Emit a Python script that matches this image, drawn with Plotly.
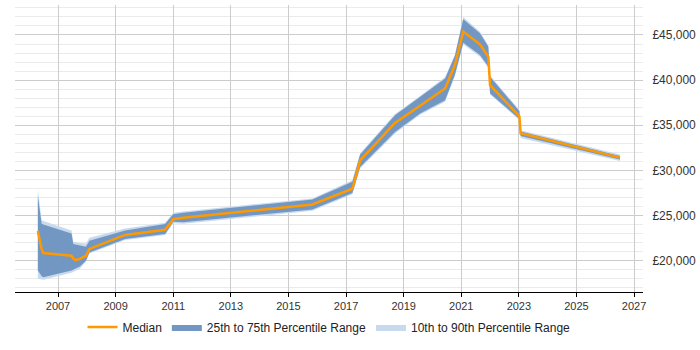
import plotly.graph_objects as go

# Time points (decimal years)
years = [2006.30, 2006.43, 2006.49, 2007.47, 2007.53, 2007.60, 2007.76, 2007.97, 2008.09,
         2009.33, 2010.72, 2011.00, 2011.35, 2015.83, 2017.22, 2017.49, 2018.70, 2019.57,
         2020.44, 2020.78, 2021.07, 2021.65, 2021.94, 2022.00, 2023.02, 2023.06, 2026.51]
median = [23300, 21300, 20850, 20550, 20250, 20050, 20200, 20550, 21300,
          22850, 23420, 24600, 24750, 26220, 27970, 31110, 35250, 37110,
          39070, 41670, 45370, 43960, 42590, 39440, 36000, 34110, 31410]
p75 = [27200, 24100, 24000, 23000, 21850, 21800, 21650, 21550, 22200,
       23350, 24070, 25150, 25300, 26780, 28750, 31750, 36100, 38100,
       40180, 42700, 46740, 45180, 43700, 40370, 36550, 34300, 31600]
p25 = [18900, 18300, 18150, 18900, 19000, 19100, 19350, 20000, 20900,
       22400, 22960, 24300, 24260, 25670, 27500, 30370, 34250, 36300,
       37780, 40600, 44150, 42780, 41500, 38520, 35700, 33800, 31200]
p90 = [27900, 24500, 24400, 23350, 22100, 22050, 21950, 21900, 22550,
       23550, 24200, 25300, 25450, 26900, 28900, 31900, 36250, 38250,
       40350, 42850, 47000, 45350, 43850, 40500, 36700, 34450, 31750]
p10 = [18000, 17950, 17900, 18650, 18750, 18850, 19100, 19900, 20800,
       22300, 22850, 24150, 24100, 25520, 27350, 30200, 34100, 36150,
       37600, 40450, 43950, 42600, 41350, 38400, 35550, 33600, 31050]

x_ticks = [2007, 2009, 2011, 2013, 2015, 2017, 2019, 2021, 2023, 2025, 2027]
y_ticks = [20000, 25000, 30000, 35000, 40000, 45000]
y_labels = ["\u00a3{:,}".format(v) for v in y_ticks]

fig = go.Figure()

fig.add_trace(go.Scatter(
    x=years + years[::-1], y=p90 + p10[::-1],
    fill="toself", fillcolor="#c8daee", mode="lines",
    line=dict(width=0, color="#c8daee"),
    name="10th to 90th Percentile Range", hoverinfo="skip", legendrank=3))
fig.add_trace(go.Scatter(
    x=years + years[::-1], y=p75 + p25[::-1],
    fill="toself", fillcolor="#7397c3", mode="lines",
    line=dict(width=0, color="#7397c3"),
    name="25th to 75th Percentile Range", hoverinfo="skip", legendrank=2))
fig.add_trace(go.Scatter(
    x=years, y=median, mode="lines",
    line=dict(color="#ff9900", width=2.5),
    name="Median", legendrank=1))

fig.update_layout(
    width=700, height=350,
    margin=dict(l=15, r=57, t=5, b=58),
    paper_bgcolor="white", plot_bgcolor="white",
    font=dict(family="Liberation Sans, Arial, sans-serif", size=11, color="#333333"),
    showlegend=True,
    legend=dict(orientation="h", x=0.5, xanchor="center", y=-0.122, yanchor="middle",
                font=dict(size=12, color="#222222"), itemwidth=30, traceorder="normal"),
    xaxis=dict(range=[2005.507, 2027.31], tickvals=x_ticks, ticktext=[str(v) for v in x_ticks],
               showgrid=True, gridcolor="#cccccc", gridwidth=1,
               showline=True, linecolor="#000000", linewidth=1,
               ticks="outside", ticklen=4, tickcolor="#000000", zeroline=False),
    yaxis=dict(range=[16530, 48320], side="right", tickvals=y_ticks, ticktext=y_labels,
               tickfont=dict(size=12, color="#333333"),
               showgrid=True, gridcolor="#cccccc", gridwidth=1, zeroline=False,
               showline=False, ticks="outside", ticklen=6, tickcolor="rgba(0,0,0,0)",
               minor=dict(dtick=1000, tick0=0, showgrid=True, gridcolor="#ebebeb", gridwidth=1)),
)

fig.write_html("out.html")
